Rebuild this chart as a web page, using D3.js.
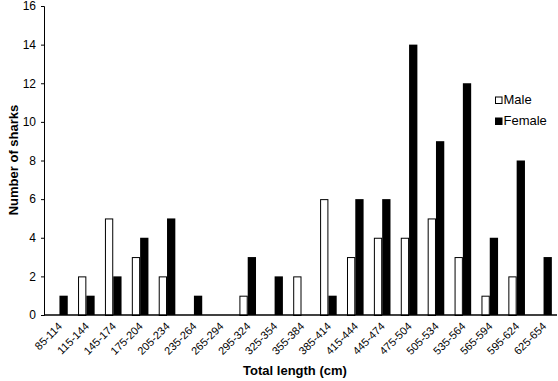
<!DOCTYPE html>
<html>
<head>
<meta charset="utf-8">
<script src="https://cdn.jsdelivr.net/npm/d3@7"></script>
<style>
  body { margin: 0; background: #fff; }
  text { font-family: Arial, "Liberation Sans", sans-serif; }
</style>
</head>
<body>
<script>
const categories = ['85-114','115-144','145-174','175-204','205-234','235-264','265-294','295-324','325-354','355-384',
  '385-414','415-444','445-474','475-504','505-534','535-564','565-594','595-624','625-654'];
const male   = [0,2,5,3,2,0,0,1,0,2,6,3,4,4,5,3,1,2,0];
const female = [1,1,2,4,5,1,0,3,2,0,1,6,6,14,9,12,4,8,3];
const series = ['Male','Female'];
const yTicks = [0,2,4,6,8,10,12,14,16];

const width = 558, height = 381;
const plotL = 44, plotT = 6, plotB = 315, plotR = 557;

const svg = d3.select('body').append('svg')
  .attr('width', width).attr('height', height);

const x = d3.scaleBand().domain(categories).range([46, plotR]).padding(0);
const barW = 8.3;
const x1 = d3.scaleBand().domain(series)
  .range([x.bandwidth()/2 - barW, x.bandwidth()/2 + barW]);
const y = d3.scaleLinear().domain([0, 16]).range([plotB, plotT]);

const rows = categories.map((c, i) => ({cat: c, Male: male[i], Female: female[i]}));

// bars
const g = svg.append('g').selectAll('g')
  .data(rows).join('g')
  .attr('transform', d => `translate(${x(d.cat)},0)`);

g.selectAll('rect')
  .data(d => series.map(s => ({key: s, value: d[s]})).filter(e => e.value > 0))
  .join('rect')
  .attr('x', d => x1(d.key) + (d.key === 'Male' ? 0.5 : 0))
  .attr('width', d => x1.bandwidth() - (d.key === 'Male' ? 1 : 0))
  .attr('y', d => y(d.value) + (d.key === 'Male' ? 0.5 : 0))
  .attr('height', d => y(0) - y(d.value))
  .attr('fill', d => d.key === 'Male' ? '#fff' : '#000')
  .attr('stroke', d => d.key === 'Male' ? '#000' : 'none')
  .attr('stroke-width', 1);

// y axis
const yAxis = svg.append('g')
  .attr('transform', `translate(${plotL},0)`)
  .call(d3.axisLeft(y).tickValues(yTicks).tickSize(3).tickPadding(5));
yAxis.selectAll('text').attr('font-size', 12).attr('fill', '#000');
yAxis.selectAll('line,path').attr('stroke', '#000');

// x axis
const xAxis = svg.append('g')
  .attr('transform', `translate(0,${plotB})`)
  .call(d3.axisBottom(x).tickSize(0).tickPadding(0));
xAxis.select('.domain').remove();
xAxis.append('line')
  .attr('x1', plotL).attr('x2', plotR)
  .attr('stroke', '#000').attr('stroke-width', 1.3);
xAxis.selectAll('.tick text')
  .attr('font-size', 11)
  .attr('fill', '#000')
  .attr('text-anchor', 'end')
  .attr('dy', 0)
  .attr('transform', 'translate(3.5,12) rotate(-45)');

// axis titles
svg.append('text')
  .attr('x', 295).attr('y', 375)
  .attr('text-anchor', 'middle')
  .attr('font-size', 13).attr('font-weight', 'bold')
  .text('Total length (cm)');

svg.append('text')
  .attr('transform', 'translate(17.5,160) rotate(-90)')
  .attr('text-anchor', 'middle')
  .attr('font-size', 13).attr('font-weight', 'bold')
  .text('Number of sharks');

// legend
const legend = svg.append('g').attr('transform', 'translate(495,96.5)');
const li = legend.selectAll('g').data(series).join('g')
  .attr('transform', (d, i) => `translate(0,${i * 21})`);
li.append('rect')
  .attr('x', 0.5).attr('y', 0.5)
  .attr('width', 6.5).attr('height', 6.5)
  .attr('fill', d => d === 'Male' ? '#fff' : '#000')
  .attr('stroke', '#000');
li.append('text')
  .attr('x', 8.5).attr('y', 7.8)
  .attr('font-size', 13)
  .text(d => d);
</script>
</body>
</html>
